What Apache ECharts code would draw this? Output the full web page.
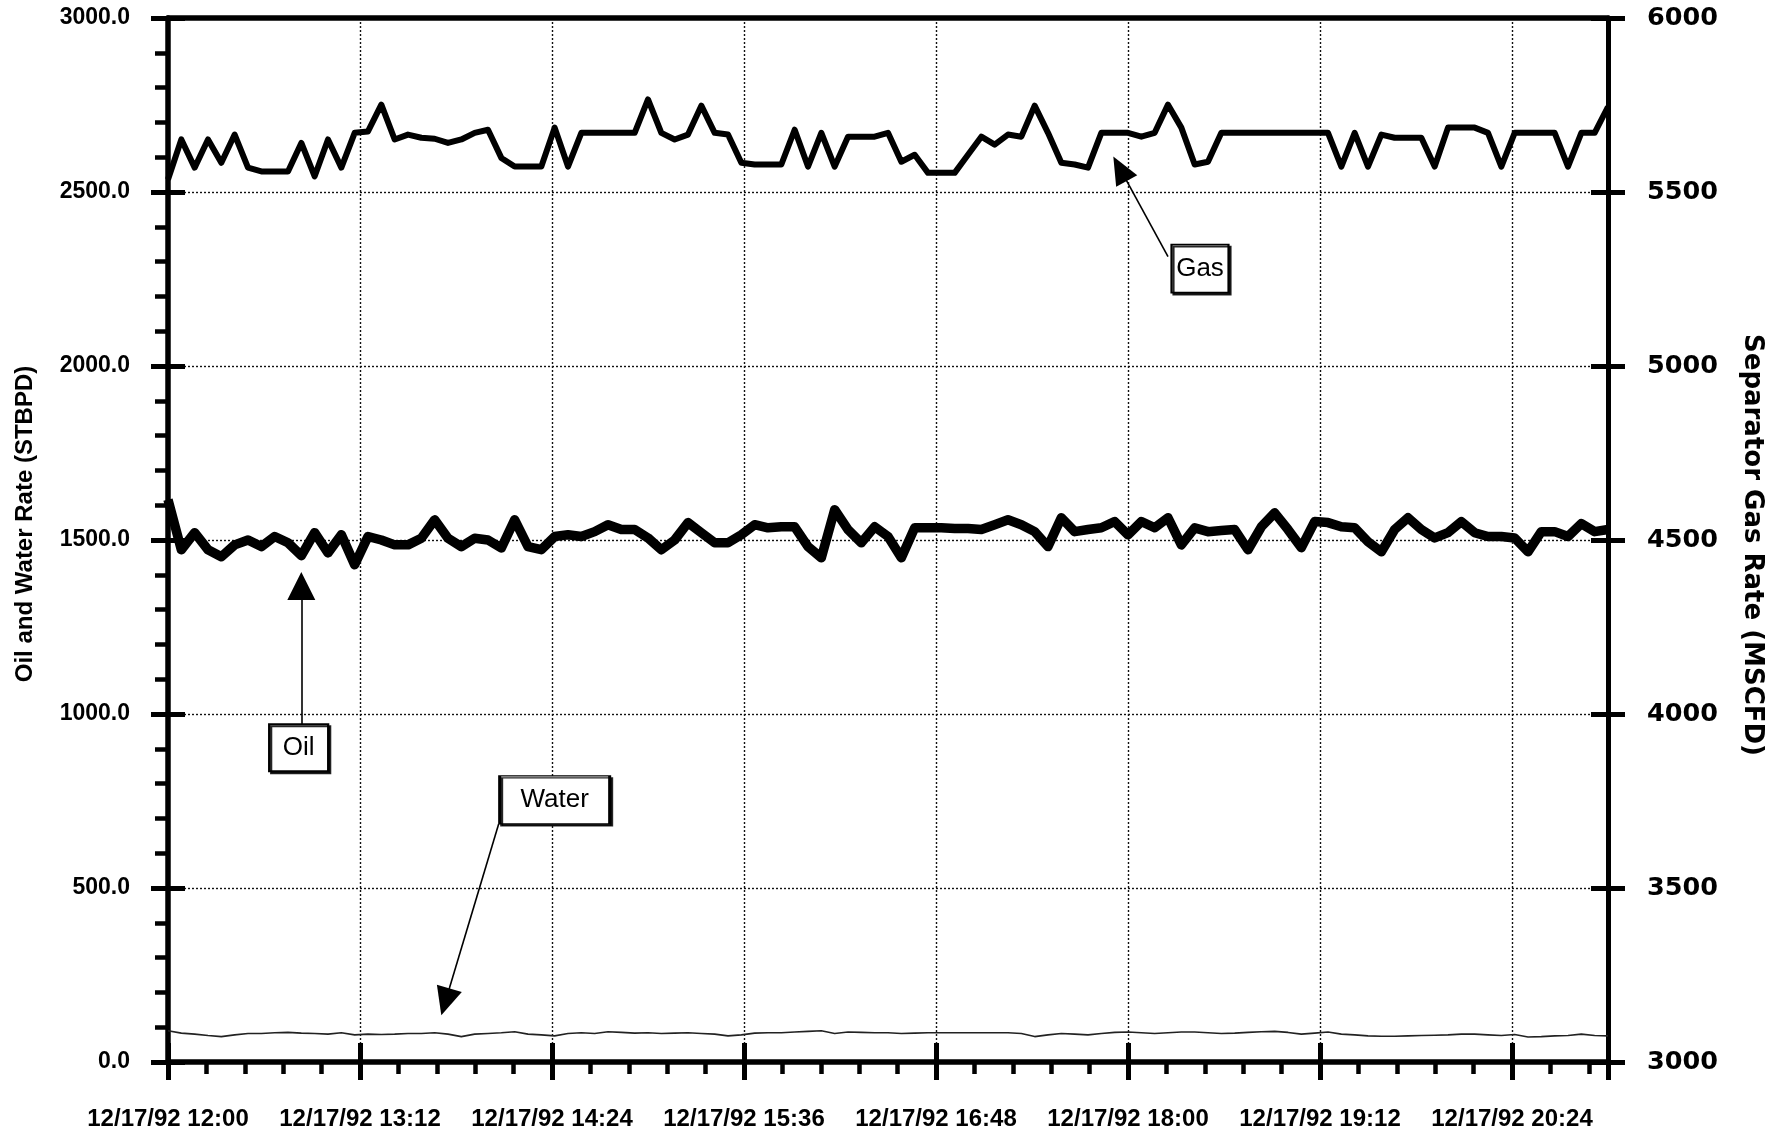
<!DOCTYPE html>
<html>
<head>
<meta charset="utf-8">
<script src="https://cdn.jsdelivr.net/npm/echarts@6/dist/echarts.min.js"></script>
<style>
  html, body { margin: 0; padding: 0; background: #fff; }
  #chart { width: 1776px; height: 1138px; }
</style>
</head>
<body>
<div id="chart"></div>
<script>
// Well test log, 12/17/92 — one reading every 5 minutes from 12:00 to 21:00
const sampleStepMin = 5;

const timeTickLabels = [
  '12/17/92 12:00', '12/17/92 13:12', '12/17/92 14:24', '12/17/92 15:36',
  '12/17/92 16:48', '12/17/92 18:00', '12/17/92 19:12', '12/17/92 20:24'
];

// Separator gas rate, MSCFD (right axis)
const gasRate = [
  5536, 5651, 5570, 5651, 5584, 5665, 5570, 5559, 5559, 5559,
  5641, 5545, 5651, 5570, 5670, 5674, 5751, 5651, 5665, 5656,
  5653, 5641, 5651, 5670, 5679, 5598, 5573, 5573, 5573, 5685,
  5573, 5670, 5670, 5670, 5670, 5670, 5766, 5670, 5651, 5665,
  5748, 5670, 5665, 5584, 5579, 5579, 5579, 5679, 5573, 5670,
  5573, 5659, 5659, 5659, 5670, 5587, 5607, 5555, 5555, 5555,
  5607, 5659, 5636, 5665, 5659, 5748, 5670, 5584, 5579, 5570,
  5670, 5670, 5670, 5659, 5670, 5751, 5685, 5579, 5587, 5670,
  5670, 5670, 5670, 5670, 5670, 5670, 5670, 5670, 5573, 5670,
  5573, 5665, 5656, 5656, 5656, 5573, 5685, 5685, 5685, 5670,
  5573, 5670, 5670, 5670, 5670, 5573, 5670, 5670, 5745
];

// Oil rate, STBPD (left axis)
const oilRate = [
  1616, 1472, 1521, 1472, 1452, 1486, 1500, 1481, 1510, 1492,
  1455, 1521, 1463, 1515, 1429, 1510, 1500, 1486, 1486, 1505,
  1558, 1505, 1481, 1505, 1500, 1477, 1558, 1481, 1472, 1510,
  1515, 1510, 1524, 1544, 1530, 1530, 1506, 1472, 1500, 1550,
  1521, 1492, 1492, 1515, 1544, 1535, 1538, 1538, 1481, 1449,
  1587, 1530, 1492, 1538, 1510, 1449, 1535, 1535, 1535, 1533,
  1533, 1530, 1544, 1558, 1544, 1524, 1481, 1564, 1524, 1530,
  1535, 1553, 1515, 1553, 1535, 1564, 1486, 1535, 1524, 1527,
  1530, 1472, 1538, 1578, 1530, 1478, 1553, 1550, 1538, 1535,
  1495, 1466, 1530, 1564, 1530, 1506, 1521, 1553, 1521, 1510,
  1510, 1506, 1466, 1524, 1524, 1510, 1547, 1524, 1530
];

// Water rate, STBPD (left axis)
const waterRate = [
  90, 83, 80, 76, 73, 78, 82, 82, 84, 85,
  83, 82, 80, 84, 78, 80, 79, 80, 82, 82,
  84, 80, 73, 80, 82, 84, 87, 80, 78, 75,
  82, 84, 82, 87, 85, 83, 84, 82, 83, 84,
  82, 80, 75, 78, 83, 84, 84, 86, 88, 90,
  82, 86, 85, 84, 84, 82, 83, 84, 84, 84,
  84, 84, 84, 84, 82, 73, 78, 82, 80, 78,
  82, 85, 86, 84, 82, 84, 86, 86, 84, 82,
  83, 85, 87, 88, 85, 80, 83, 86, 80, 78,
  75, 74, 74, 75, 76, 77, 78, 80, 80, 78,
  76, 79, 72, 73, 75, 76, 80, 76, 75
];

const withTime = arr => arr.map((v, i) => [i * sampleStepMin, v]);

const LABEL_FONT = '"Liberation Sans", Arial, Helvetica, sans-serif';
const WIDE_FONT = '"DejaVu Sans", Verdana, sans-serif';

const tickLabel = v => {
  const k = v / 72;
  return Number.isInteger(k) && timeTickLabels[k] ? timeTickLabels[k] : '';
};

const arrowLine = { color: '#000', width: 1.6, type: 'solid' };
const noteBox = (name, coord, size) => ({
  name, coord,
  symbol: 'rect',
  symbolSize: size,
  itemStyle: {
    color: '#fff', borderColor: '#000', borderWidth: 2,
    shadowColor: 'rgba(0,0,0,0.85)', shadowOffsetX: 2, shadowOffsetY: 2, shadowBlur: 0
  },
  label: {
    show: true, position: 'inside', formatter: name,
    color: '#000', fontSize: 26, fontFamily: LABEL_FONT
  }
});

const chart = echarts.init(document.getElementById('chart'), null, { renderer: 'canvas' });

chart.setOption({
  animation: false,
  backgroundColor: '#fff',
  grid: {
    left: 168, right: 168, top: 18, bottom: 76,
    containLabel: false, outerBoundsMode: 'none'
  },
  xAxis: [
    {
      type: 'value', position: 'bottom', min: 0, max: 540, interval: 72,
      axisLine: { show: true, onZero: false, lineStyle: { color: '#000', width: 5.5 } },
      axisTick: { show: true, inside: false, length: 18, lineStyle: { color: '#000', width: 5 } },
      minorTick: { show: true, splitNumber: 5, length: 12, lineStyle: { color: '#000', width: 4.5 } },
      axisLabel: {
        show: true, margin: 45, formatter: tickLabel, showMinLabel: true, showMaxLabel: true,
        color: '#000', fontSize: 24, fontWeight: 'bold', fontFamily: LABEL_FONT
      },
      splitLine: { show: true, lineStyle: { color: '#111', width: 1.4, type: [2, 2] } }
    },
    {
      type: 'value', position: 'bottom', min: 0, max: 540, interval: 72,
      axisLine: { show: false, onZero: false },
      axisTick: { show: true, inside: true, length: 19, lineStyle: { color: '#000', width: 5 } },
      axisLabel: { show: false },
      splitLine: { show: false }
    },
    {
      type: 'value', position: 'top', min: 0, max: 540, interval: 72,
      axisLine: { show: true, onZero: false, lineStyle: { color: '#000', width: 5.5 } },
      axisTick: { show: false },
      axisLabel: { show: false },
      splitLine: { show: false }
    }
  ],
  yAxis: [
    {
      type: 'value', position: 'left', min: 0, max: 3000, interval: 500,
      axisLine: { show: true, onZero: false, lineStyle: { color: '#000', width: 5.5 } },
      axisTick: { show: true, inside: false, length: 17, lineStyle: { color: '#000', width: 5 } },
      minorTick: { show: true, splitNumber: 5, length: 13, lineStyle: { color: '#000', width: 4.5 } },
      axisLabel: {
        margin: 38, formatter: v => v.toFixed(1),
        color: '#000', fontSize: 23, fontWeight: 'bold', fontFamily: LABEL_FONT
      },
      splitLine: { show: true, lineStyle: { color: '#111', width: 1.4, type: [2, 2] } }
    },
    {
      type: 'value', position: 'right', min: 3000, max: 6000, interval: 500,
      axisLine: { show: true, onZero: false, lineStyle: { color: '#000', width: 5 } },
      axisTick: { show: true, inside: false, length: 17, lineStyle: { color: '#000', width: 5 } },
      axisLabel: {
        margin: 39, formatter: v => String(v),
        color: '#000', fontSize: 25.5, fontWeight: 'bold', fontFamily: WIDE_FONT
      },
      splitLine: { show: false }
    },
    {
      type: 'value', position: 'left', min: 0, max: 3000, interval: 500,
      axisLine: { show: false, onZero: false },
      axisTick: { show: true, inside: true, length: 17, lineStyle: { color: '#000', width: 5 } },
      axisLabel: { show: false },
      splitLine: { show: false }
    },
    {
      type: 'value', position: 'right', min: 3000, max: 6000, interval: 500,
      axisLine: { show: false, onZero: false },
      axisTick: { show: true, inside: true, length: 17, lineStyle: { color: '#000', width: 5 } },
      axisLabel: { show: false },
      splitLine: { show: false }
    }
  ],
  graphic: [
    {
      type: 'text', x: 25, y: 524, rotation: Math.PI / 2,
      style: {
        text: 'Oil and Water Rate (STBPD)', fill: '#000',
        font: 'bold 24px ' + LABEL_FONT, align: 'center', verticalAlign: 'middle'
      }
    },
    {
      type: 'text', x: 1752, y: 545, rotation: -Math.PI / 2,
      style: {
        text: 'Separator Gas Rate (MSCFD)', fill: '#000',
        font: 'bold 26px ' + WIDE_FONT, align: 'center', verticalAlign: 'middle'
      }
    }
  ],
  series: [
    {
      name: 'Gas', type: 'line', xAxisIndex: 0, yAxisIndex: 1,
      data: withTime(gasRate), showSymbol: false, symbol: 'none',
      lineStyle: { color: '#000', width: 6, join: 'round' },
      silent: true, z: 3,
      markPoint: {
        silent: true, animation: false,
        data: [noteBox('Gas', [387, 5280], [57, 48])]
      },
      markLine: {
        silent: true, animation: false, symbol: ['none', 'triangle'], symbolSize: [24, 28],
        label: { show: false }, lineStyle: arrowLine, emphasis: { disabled: true },
        data: [[{ coord: [375, 5314] }, { coord: [357, 5567] }]]
      }
    },
    {
      name: 'Oil', type: 'line', xAxisIndex: 0, yAxisIndex: 0,
      data: withTime(oilRate), showSymbol: false, symbol: 'none',
      lineStyle: { color: '#000', width: 9.5, join: 'round' },
      silent: true, z: 3,
      markPoint: {
        silent: true, animation: false,
        data: [noteBox('Oil', [49, 903], [59, 47])]
      },
      markLine: {
        silent: true, animation: false, symbol: ['none', 'triangle'], symbolSize: [28, 28],
        label: { show: false }, lineStyle: arrowLine, emphasis: { disabled: true },
        data: [[{ coord: [50, 969] }, { coord: [50, 1368] }]]
      }
    },
    {
      name: 'Water', type: 'line', xAxisIndex: 0, yAxisIndex: 0,
      data: withTime(waterRate), showSymbol: false, symbol: 'none',
      lineStyle: { color: '#222', width: 1.6 },
      silent: true, z: 3,
      markPoint: {
        silent: true, animation: false,
        data: [noteBox('Water', [145, 753], [110, 48])]
      },
      markLine: {
        silent: true, animation: false, symbol: ['none', 'triangle'], symbolSize: [26, 28],
        label: { show: false }, lineStyle: arrowLine, emphasis: { disabled: true },
        data: [[{ coord: [124, 684] }, { coord: [104, 173] }]]
      }
    }
  ]
});
</script>
</body>
</html>
